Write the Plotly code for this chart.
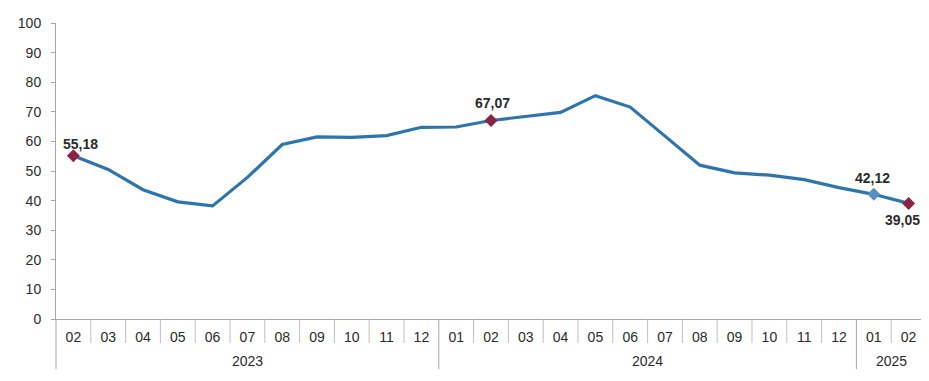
import plotly.graph_objects as go

years = ["2023"] * 11 + ["2024"] * 12 + ["2025"] * 2
months = ["02", "03", "04", "05", "06", "07", "08", "09", "10", "11", "12",
          "01", "02", "03", "04", "05", "06", "07", "08", "09", "10", "11", "12",
          "01", "02"]
values = [55.18, 50.51, 43.68, 39.59, 38.21, 47.83, 58.94, 61.53, 61.36, 61.98, 64.77,
          64.86, 67.07, 68.50, 69.80, 75.45, 71.60, 61.78, 51.97, 49.38, 48.58, 47.09, 44.38,
          42.12, 39.05]

highlight_idx = [0, 12, 23, 24]
highlight_colors = ["#8B2346", "#8B2346", "#5A8DC0", "#8B2346"]
label_shift = [(7, 12), (1, 17), (-1, 16), (-6, -17)]

line_color = "#2E75AD"
FONT = "Liberation Sans, Arial"
TXT = "#2b2b2b"

n = len(values)
xs = list(range(n))

fig = go.Figure()
fig.add_trace(go.Scatter(
    x=xs, y=values, mode="lines",
    line=dict(color=line_color, width=3.2), hoverinfo="skip", showlegend=False,
))
fig.add_trace(go.Scatter(
    x=[xs[i] for i in highlight_idx], y=[values[i] for i in highlight_idx],
    mode="markers",
    marker=dict(symbol="diamond", size=10, color=highlight_colors),
    cliponaxis=False, showlegend=False,
))

annotations = []
for k, i in enumerate(highlight_idx):
    dx, dy = label_shift[k]
    annotations.append(dict(
        x=xs[i], y=values[i], xref="x", yref="y", showarrow=False,
        text=f"<b>{values[i]:.2f}</b>".replace(".", ","),
        xshift=dx, yshift=dy,
        font=dict(family=FONT, size=14, color=TXT),
    ))

# figure sits 8px inside the page (default body margin), so sizes compensate
W, H = 921, 365
ML, MR, MT, MB = 48, 3, 15, 54
plot_h = H - MT - MB
short_len = 24 / plot_h
long_len = 50 / plot_h
shapes = []
for b in range(n + 1):
    is_group = b == 0 or b == n or years[b] != years[b - 1]
    shapes.append(dict(
        type="line", xref="x domain", yref="paper",
        x0=b / n, x1=b / n, y0=0, y1=-(long_len if is_group else short_len),
        line=dict(color="#A6A6A6" if is_group else "#BFBFBF", width=1),
    ))

group_names = []
for y in years:
    if y not in group_names:
        group_names.append(y)
for g in group_names:
    idx = [i for i, y in enumerate(years) if y == g]
    annotations.append(dict(
        x=sum(idx) / len(idx), y=-(42 / plot_h), xref="x", yref="paper",
        showarrow=False, text=g, yanchor="middle",
        font=dict(family=FONT, size=14, color=TXT),
    ))

fig.update_layout(
    width=W, height=H,
    margin=dict(l=ML, r=MR, t=MT, b=MB, autoexpand=False),
    paper_bgcolor="white", plot_bgcolor="white",
    font=dict(family=FONT, size=14, color=TXT),
    shapes=shapes, annotations=annotations,
)
fig.update_xaxes(
    range=[-0.5, n - 0.5], tickmode="array", tickvals=xs, ticktext=months,
    showline=True, linecolor="#A6A6A6", linewidth=1,
    ticks="outside", ticklen=5, tickcolor="rgba(0,0,0,0)",
    showgrid=False, zeroline=False, tickfont=dict(size=14, color=TXT),
)
fig.update_yaxes(
    range=[0, 100], dtick=10, showline=True, linecolor="#A6A6A6", linewidth=1,
    ticks="outside", ticklen=4, tickcolor="#A6A6A6", ticklabelstandoff=7,
    showgrid=False, zeroline=False, tickfont=dict(size=14, color=TXT),
)

fig.write_html("out.html")
